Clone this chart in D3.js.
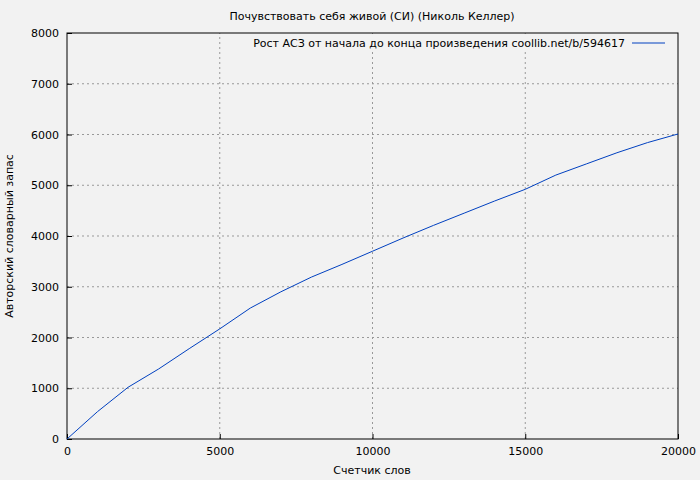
<!DOCTYPE html>
<html><head><meta charset="utf-8">
<script src="https://cdn.jsdelivr.net/npm/d3@7"></script>
<style>body{margin:0;background:#f2f2f2}text{font-family:"DejaVu Sans",sans-serif}</style>
</head><body><div id="chart"></div>
<script>
const words = [0,1000,2000,3000,4000,5000,6000,7000,8000,9000,10000,11000,12000,13000,14000,15000,16000,17000,18000,19000,20000];
const vocab = [0,540,1020,1380,1780,2170,2580,2900,3190,3440,3700,3960,4210,4450,4690,4920,5200,5420,5640,5840,6010];
const xTicks = [0,5000,10000,15000,20000];
const yTicks = [0,1000,2000,3000,4000,5000,6000,7000,8000];

const width = 700, height = 480;
const m = {left: 67, right: 22, top: 33, bottom: 41};
const svg = d3.select('#chart').append('svg').attr('width', width).attr('height', height);
svg.append('rect').attr('width', width).attr('height', height).attr('fill', '#f2f2f2');

const x = d3.scaleLinear().domain([0, 20000]).range([m.left, width - m.right]);
const y = d3.scaleLinear().domain([0, 8000]).range([height - m.bottom, m.top]);

// grid
svg.append('g').selectAll('line').data(xTicks.slice(1, -1)).enter().append('line')
  .attr('x1', d => x(d)).attr('x2', d => x(d)).attr('y1', y(0)).attr('y2', y(8000))
  .attr('stroke', '#999').attr('stroke-dasharray', '2,3');
svg.append('g').selectAll('line').data(yTicks.slice(1, -1)).enter().append('line')
  .attr('x1', x(0)).attr('x2', x(20000)).attr('y1', d => y(d)).attr('y2', d => y(d))
  .attr('stroke', '#999').attr('stroke-dasharray', '2,3');

// legend background hides grid behind text
svg.append('rect').attr('x', 268).attr('y', 36).attr('width', 400).attr('height', 14).attr('fill', '#f2f2f2');

svg.append('g').attr('transform', `translate(0,${y(0)})`)
  .call(d3.axisBottom(x).tickValues(xTicks).tickSize(-5).tickPadding(8).tickFormat(d3.format('d')))
  .call(g => g.select('.domain').remove());
svg.append('g').attr('transform', `translate(${x(0)},0)`)
  .call(d3.axisLeft(y).tickValues(yTicks).tickSize(-5).tickPadding(8).tickFormat(d3.format('d')))
  .call(g => g.select('.domain').remove());
svg.selectAll('.tick text').attr('font-size', 11).attr('fill', '#000');
svg.selectAll('.tick line').attr('stroke', '#000');

svg.append('rect').attr('x', x(0)).attr('y', y(8000)).attr('width', x(20000) - x(0)).attr('height', y(0) - y(8000))
  .attr('fill', 'none').attr('stroke', '#000');

svg.append('path').datum(words.map((w, i) => [w, vocab[i]]))
  .attr('d', d3.line().x(d => x(d[0])).y(d => y(d[1])))
  .attr('fill', 'none').attr('stroke', '#0040c0').attr('stroke-width', 1);

svg.append('text').attr('x', 625).attr('y', 47).attr('text-anchor', 'end').attr('font-size', 11)
  .text('Рост АСЗ от начала до конца произведения coollib.net/b/594617');
svg.append('line').attr('x1', 632).attr('x2', 665).attr('y1', 43).attr('y2', 43).attr('stroke', '#0040c0');

svg.append('text').attr('x', 372).attr('y', 20).attr('text-anchor', 'middle').attr('font-size', 11)
  .text('Почувствовать себя живой (СИ) (Николь Келлер)');
svg.append('text').attr('x', 372).attr('y', 474).attr('text-anchor', 'middle').attr('font-size', 11)
  .text('Счетчик слов');
svg.append('text').attr('transform', `translate(13,236) rotate(-90)`).attr('text-anchor', 'middle').attr('font-size', 11)
  .text('Авторский словарный запас');
</script></body></html>
